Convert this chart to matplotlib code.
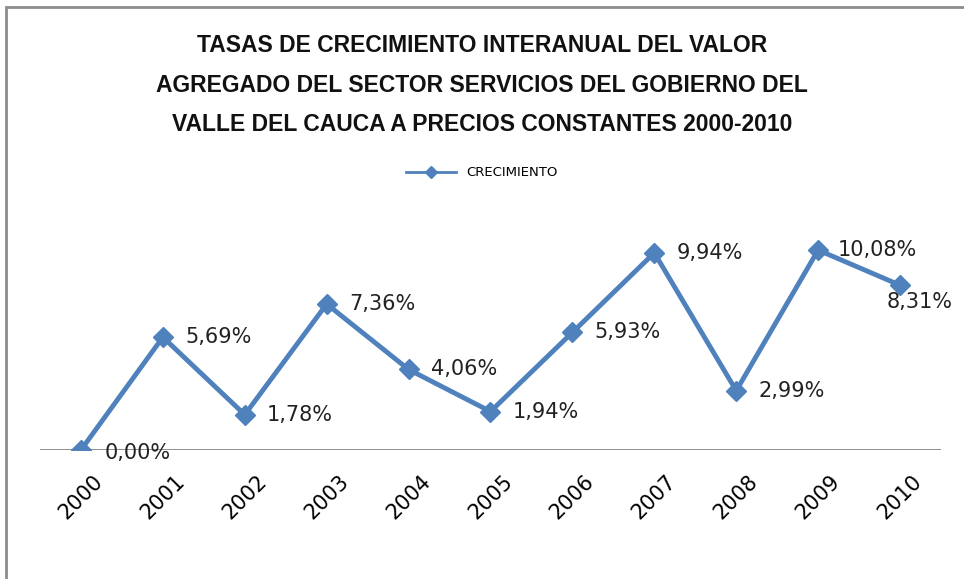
import numpy as np
import matplotlib.pyplot as plt
from matplotlib.patches import Rectangle

years = ['2000', '2001', '2002', '2003', '2004', '2005', '2006', '2007', '2008', '2009', '2010']
crecimiento = [0.00, 5.69, 1.78, 7.36, 4.06, 1.94, 5.93, 9.94, 2.99, 10.08, 8.31]
etiquetas = ['0,00%', '5,69%', '1,78%', '7,36%', '4,06%', '1,94%', '5,93%', '9,94%', '2,99%', '10,08%', '8,31%']

# desplazamientos de las etiquetas (puntos)
offsets = [(17, -2), (16, 0), (16, 0), (16, 0), (16, 0), (16, 0), (16, 0), (16, 0), (16, 0), (14, 0), (-10, -12)]

azul = '#4f81bd'

fig = plt.figure(figsize=(9.64, 5.79), dpi=100)
ax = fig.add_axes([40/964, 129/579, 901/964, 238/579])

xpos = np.arange(len(years))
ax.plot(xpos, crecimiento, color=azul, lw=3.5, marker='D', markersize=10, label='CRECIMIENTO',
        zorder=3)

for x, y, t, off in zip(xpos, crecimiento, etiquetas, offsets):
    ax.annotate(t, xy=(x, y), xytext=off, textcoords='offset points',
                ha='left', va='center', fontsize=15, color='#222222')

ax.set_xlim(-0.5, len(years) - 0.5)
ax.set_ylim(0, 12)
ax.axhline(0, color='#868686', lw=1.3, zorder=1)
for s in ax.spines.values():
    s.set_visible(False)
ax.set_yticks([])
ax.set_xticks(xpos)
ax.set_xticklabels(years, rotation=45, ha='center', va='top', fontsize=15)
ax.tick_params(axis='x', length=0, pad=15)

fig.text(0.5, 1 - 85/579, 'TASAS DE CRECIMIENTO INTERANUAL DEL VALOR\n'
         'AGREGADO DEL SECTOR SERVICIOS DEL GOBIERNO DEL\n'
         'VALLE DEL CAUCA A PRECIOS CONSTANTES 2000-2010',
         ha='center', va='center', fontsize=16.5, fontweight='bold', linespacing=1.9,
         family='Liberation Sans', color='#111111')

leg = fig.legend(loc='center', bbox_to_anchor=(0.5, 1 - 173/579), frameon=False, fontsize=9.5,
                 handlelength=3.8, markerscale=0.6)
leg.get_lines()[0].set_linewidth(2)

fig.patches.append(Rectangle((6/964, -0.1), 1.2, 1.1 - 7/579, transform=fig.transFigure,
                             fill=False, edgecolor='#8c8c8c', lw=2))

fig.savefig('out.png', dpi=100)
